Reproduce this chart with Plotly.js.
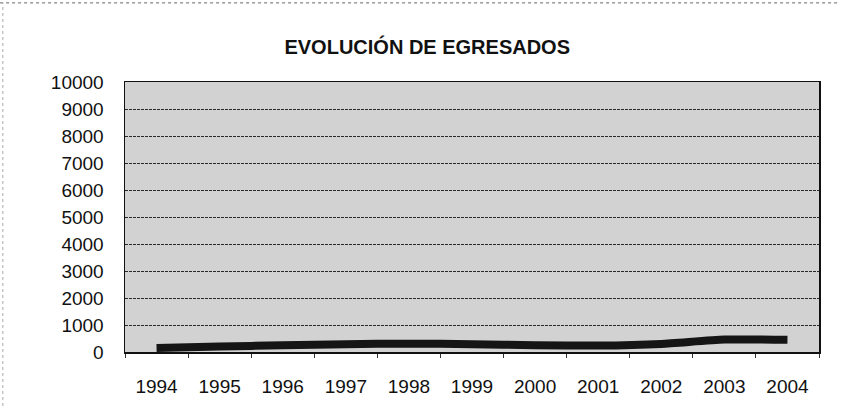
<!DOCTYPE html>
<html>
<head>
<meta charset="utf-8">
<script src="https://cdn.plot.ly/plotly-3.0.1.min.js"></script>
<style>html,body{margin:0;padding:0;background:#fff;}#chart{width:841px;height:409px;}</style>
</head>
<body>
<div id="chart"></div>
<script>
const years = ["1994","1995","1996","1997","1998","1999","2000","2001","2002","2003","2004"];
const egresados = [150, 200, 250, 290, 310, 290, 250, 240, 300, 460, 450];
const yTicks = [0,1000,2000,3000,4000,5000,6000,7000,8000,9000,10000];
const chartTitle = "EVOLUCIÓN DE EGRESADOS";

const trace = {
  x: years, y: egresados, type: "scatter", mode: "lines",
  line: {color: "#151515", width: 8, shape: "spline", smoothing: 0.6},
  hoverinfo: "skip"
};

const layout = {
  width: 841, height: 409,
  margin: {l: 125, r: 22, t: 82, b: 57},
  paper_bgcolor: "#ffffff",
  plot_bgcolor: "#d2d2d2",
  showlegend: false,
  font: {family: "Liberation Sans, Arial, sans-serif", color: "#111"},
  title: {text: chartTitle, x: 0.508, xanchor: "center", y: 0.885, yanchor: "middle",
          font: {family: "Liberation Sans, Arial, sans-serif", size: 20, color: "#111", weight: "bold"}},
  xaxis: {
    type: "category", range: [-0.5, 10.5],
    showgrid: false, zeroline: false,
    showline: true, linecolor: "#111", linewidth: 1.5, mirror: true,
    ticks: "outside", tickson: "boundaries", ticklen: 4, tickcolor: "#333",
    ticklabelstandoff: 17,
    tickfont: {size: 19, color: "#111"}
  },
  yaxis: {
    range: [0, 10000], tickvals: yTicks, ticktext: yTicks.map(String),
    showgrid: true, gridcolor: "#2a2a2a", gridwidth: 1, griddash: "3px,1px",
    zeroline: false,
    showline: true, linecolor: "#111", linewidth: 1.5, mirror: true,
    ticks: "", ticklabelstandoff: 16,
    tickfont: {size: 19, color: "#111"}
  },
  shapes: [
    {type: "line", xref: "paper", yref: "paper", x0: -0.18, x1: 1.03, y0: 1.293, y1: 1.293,
     line: {color: "#666", width: 1, dash: "dot"}},
    {type: "line", xref: "paper", yref: "paper", x0: -0.176, x1: -0.176, y0: -0.2, y1: 1.293,
     line: {color: "#aaa", width: 1, dash: "dot"}}
  ]
};

Plotly.newPlot("chart", [trace], layout, {displayModeBar: false, staticPlot: true});
</script>
</body>
</html>
